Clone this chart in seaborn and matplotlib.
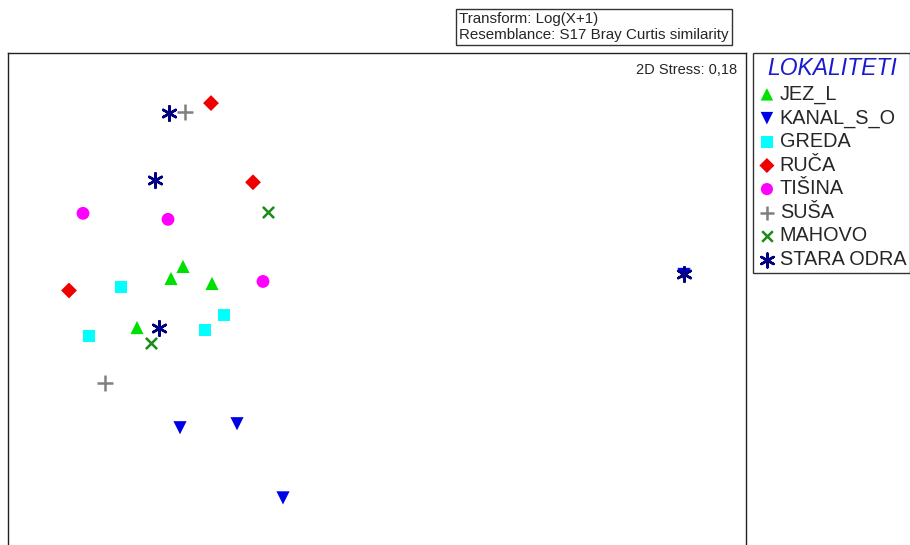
import matplotlib
matplotlib.use("Agg")
import matplotlib.pyplot as plt
import seaborn as sns
import pandas as pd

# nMDS coordinates (arbitrary units)
jez_l_x = [-0.585, -0.645, -0.44, -0.815]
jez_l_y = [0.17, 0.11, 0.085, -0.135]
kanal_x = [-0.60, -0.315, -0.085, 1.92]
kanal_y = [-0.635, -0.615, -0.985, 0.13]
greda_x = [-0.895, -1.055, -0.475, -0.38]
greda_y = [0.065, -0.175, -0.145, -0.07]
ruca_x = [-0.445, -0.235, -1.155]
ruca_y = [0.985, 0.59, 0.05]
tisina_x = [-1.085, -0.66, -0.185]
tisina_y = [0.435, 0.405, 0.095]
susa_x = [-0.575, -0.975]
susa_y = [0.94, -0.41]
mahovo_x = [-0.16, -0.745]
mahovo_y = [0.44, -0.21]
stara_x = [-0.655, -0.725, -0.705, 1.92]
stara_y = [0.935, 0.60, -0.135, 0.13]

groups = ["JEZ_L", "KANAL_S_O", "GREDA", "RUČA", "TIŠINA", "SUŠA", "MAHOVO", "STARA ODRA"]
xs = [jez_l_x, kanal_x, greda_x, ruca_x, tisina_x, susa_x, mahovo_x, stara_x]
ys = [jez_l_y, kanal_y, greda_y, ruca_y, tisina_y, susa_y, mahovo_y, stara_y]

rows = []
for g, gx, gy in zip(groups, xs, ys):
    for a, b in zip(gx, gy):
        rows.append({"MDS1": a, "MDS2": b, "LOKALITETI": g})
df = pd.DataFrame(rows)

colors = {"JEZ_L": "#00e000", "KANAL_S_O": "#0000e6", "GREDA": "#00ffff", "RUČA": "#ee0000",
          "TIŠINA": "#ff00ff", "SUŠA": "#808080", "MAHOVO": "#1a8c1a", "STARA ODRA": "#000080"}
markers = {"JEZ_L": "^", "KANAL_S_O": "v", "GREDA": "s", "RUČA": "D",
           "TIŠINA": "o", "SUŠA": "+", "MAHOVO": "x", "STARA ODRA": (6, 2, 0)}
sizes = {"JEZ_L": 90, "KANAL_S_O": 90, "GREDA": 75, "RUČA": 65,
         "TIŠINA": 85, "SUŠA": 120, "MAHOVO": 65, "STARA ODRA": 110}

sns.set_style("white")
plt.rcParams['font.family'] = ['Liberation Sans', 'DejaVu Sans']

fig = plt.figure(figsize=(9.1, 5.45), dpi=100)
ax = fig.add_axes([8 / 910, -6 / 545, 738 / 910, 498 / 545])

for g in groups:
    sub = df[df["LOKALITETI"] == g]
    filled = g not in ("SUŠA", "MAHOVO", "STARA ODRA")
    kw = dict(edgecolor="none") if filled else dict(linewidth=1.8)
    sns.scatterplot(data=sub, x="MDS1", y="MDS2", color=colors[g], marker=markers[g],
                    s=sizes[g], ax=ax, label=g, zorder=3, **kw)

ax.set_xlim(-1.46, 2.23)
ax.set_ylim(-1.25, 1.235)
ax.set_xticks([])
ax.set_yticks([])
ax.set_xlabel("")
ax.set_ylabel("")
for sp in ax.spines.values():
    sp.set_color("#222222")
    sp.set_linewidth(1.0)

ax.text(0.988, 0.98, "2D Stress: 0,18", transform=ax.transAxes, ha="right", va="top", fontsize=10.5)

fig.text(459 / 910, 1 - 27 / 545, "Transform: Log(X+1)\nResemblance: S17 Bray Curtis similarity",
         ha="left", va="center", fontsize=10.9, linespacing=1.2,
         bbox=dict(boxstyle="square,pad=0.22", facecolor="white", edgecolor="#333333", linewidth=1.0))

handles, labels = ax.get_legend_handles_labels()
if ax.legend_:
    ax.legend_.remove()
leg = fig.legend(handles, labels, title="LOKALITETI", loc="upper left",
                 bbox_to_anchor=(753 / 910, 1 - 53 / 545), fontsize=14.3, frameon=True,
                 fancybox=False, edgecolor="black", borderpad=0.2, labelspacing=0.23,
                 handletextpad=0.15, handlelength=1.0, borderaxespad=0, markerscale=0.95)
leg.get_frame().set_linewidth(1.0)
leg.get_title().set_color("#1a1ad0")
leg.get_title().set_fontstyle("italic")
leg.get_title().set_fontsize(16.5)

fig.savefig("out.png", dpi=100)
